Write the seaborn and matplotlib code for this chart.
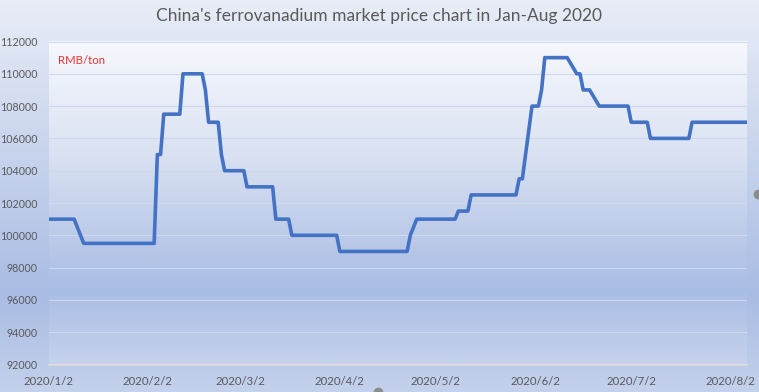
import numpy as np
import pandas as pd
import seaborn as sns
import matplotlib.pyplot as plt
import matplotlib.dates as mdates
from matplotlib.colors import LinearSegmentedColormap
from matplotlib.ticker import FuncFormatter

# price change points (RMB/ton)
dates = ["2020-01-02", "2020-01-10", "2020-01-13", "2020-02-04", "2020-02-05",
         "2020-02-06", "2020-02-07", "2020-02-12", "2020-02-13", "2020-02-19",
         "2020-02-20", "2020-02-21", "2020-02-24", "2020-02-25", "2020-02-26",
         "2020-03-03", "2020-03-04", "2020-03-12", "2020-03-13", "2020-03-17",
         "2020-03-18", "2020-04-01", "2020-04-02", "2020-04-23", "2020-04-24",
         "2020-04-26", "2020-05-08", "2020-05-09", "2020-05-12", "2020-05-13",
         "2020-05-27", "2020-05-28", "2020-05-29", "2020-06-01", "2020-06-03",
         "2020-06-04", "2020-06-05", "2020-06-12", "2020-06-15", "2020-06-16",
         "2020-06-17", "2020-06-19", "2020-06-22", "2020-07-01", "2020-07-02",
         "2020-07-07", "2020-07-08", "2020-07-20", "2020-07-21", "2020-08-07"]
prices = [101000, 101000, 99500, 99500, 105000,
          105000, 107500, 107500, 110000, 110000,
          109000, 107000, 107000, 105000, 104000,
          104000, 103000, 103000, 101000, 101000,
          100000, 100000, 99000, 99000, 100000,
          101000, 101000, 101500, 101500, 102500,
          102500, 103500, 103500, 108000, 108000,
          109000, 111000, 111000, 110000, 110000,
          109000, 109000, 108000, 108000, 107000,
          107000, 106000, 106000, 107000, 107000]
y_ticks = list(range(92000, 112001, 2000))

df = pd.DataFrame({"date": pd.to_datetime(dates), "price": prices})

sns.set_style("white")
plt.rcParams['font.family'] = ['Lato', 'DejaVu Sans']

fig = plt.figure(figsize=(7.59, 3.92), dpi=100)

# outer chart background gradient
outer_cmap = LinearSegmentedColormap.from_list(
    "outer", [(0, "#e8edf7"), (0.5, "#bfcdea"), (0.75, "#a9bce3"), (1, "#c4d1ec")])
bg = fig.add_axes([0, 0, 1, 1], zorder=-10)
bg.imshow(np.linspace(0, 1, 256).reshape(-1, 1), cmap=outer_cmap, aspect="auto",
          extent=[0, 1, 0, 1], origin="upper")
bg.set_xlim(0, 1)
bg.set_ylim(0, 1)
bg.axis("off")
# little grey handles at the edges
bg.plot([757.7 / 759], [1 - 194.3 / 392], "o", ms=6, color="#8c8c8c", clip_on=True)
bg.plot([377.7 / 759], [1 - 391.7 / 392], "o", ms=6, color="#8c8c8c", clip_on=True)

ax = fig.add_axes([48.5 / 759, 1 - 364.5 / 392, 698 / 759, 323 / 392])
plot_cmap = LinearSegmentedColormap.from_list(
    "plot", [(0, "#f7f8fd"), (0.34, "#dbe3f3"), (0.6, "#bdcbe9"),
             (0.77, "#a9bde4"), (1, "#c6d2ec")])
ax.imshow(np.linspace(0, 1, 256).reshape(-1, 1), cmap=plot_cmap, aspect="auto",
          extent=[0, 1, 0, 1], origin="upper", transform=ax.transAxes, zorder=0)

sns.lineplot(data=df, x="date", y="price", ax=ax, color="#4472c4", linewidth=2.6, zorder=3)

ax.set_xlim(pd.Timestamp("2020-01-02"), pd.Timestamp("2020-08-07"))
ax.set_ylim(92000, 112000)
ax.set_yticks(y_ticks)
ax.yaxis.set_major_formatter(FuncFormatter(lambda v, p: f"{int(v)}"))
ax.xaxis.set_major_locator(mdates.DayLocator(bymonthday=2))
ax.xaxis.set_major_formatter(FuncFormatter(
    lambda v, p: f"{mdates.num2date(v).year}/{mdates.num2date(v).month}/{mdates.num2date(v).day}"))

# faint horizontal gridlines
ax.grid(axis="y", color="#ced8ee", linewidth=0.8, zorder=1)
ax.set_axisbelow(False)
for s in ["top", "right", "left"]:
    ax.spines[s].set_visible(False)
ax.spines["bottom"].set_color("#d9d9d9")
ax.spines["bottom"].set_linewidth(1.2)
ax.tick_params(axis="x", colors="#d9d9d9", length=3, width=1, labelcolor="#595959",
               labelsize=8.2, pad=5)
ax.tick_params(axis="y", length=0, labelcolor="#595959", labelsize=7.7, pad=8)
ax.set_xlabel("")
ax.set_ylabel("")

ax.text(0.014, 0.94, "RMB/ton", transform=ax.transAxes, color="#f03030",
        fontsize=8.2, va="center", ha="left")
fig.text(0.5, 1 - 16 / 392, "China's ferrovanadium market price chart in Jan-Aug 2020",
         ha="center", va="center", color="#595959", fontsize=12.5)

fig.savefig("out.png", dpi=100)
